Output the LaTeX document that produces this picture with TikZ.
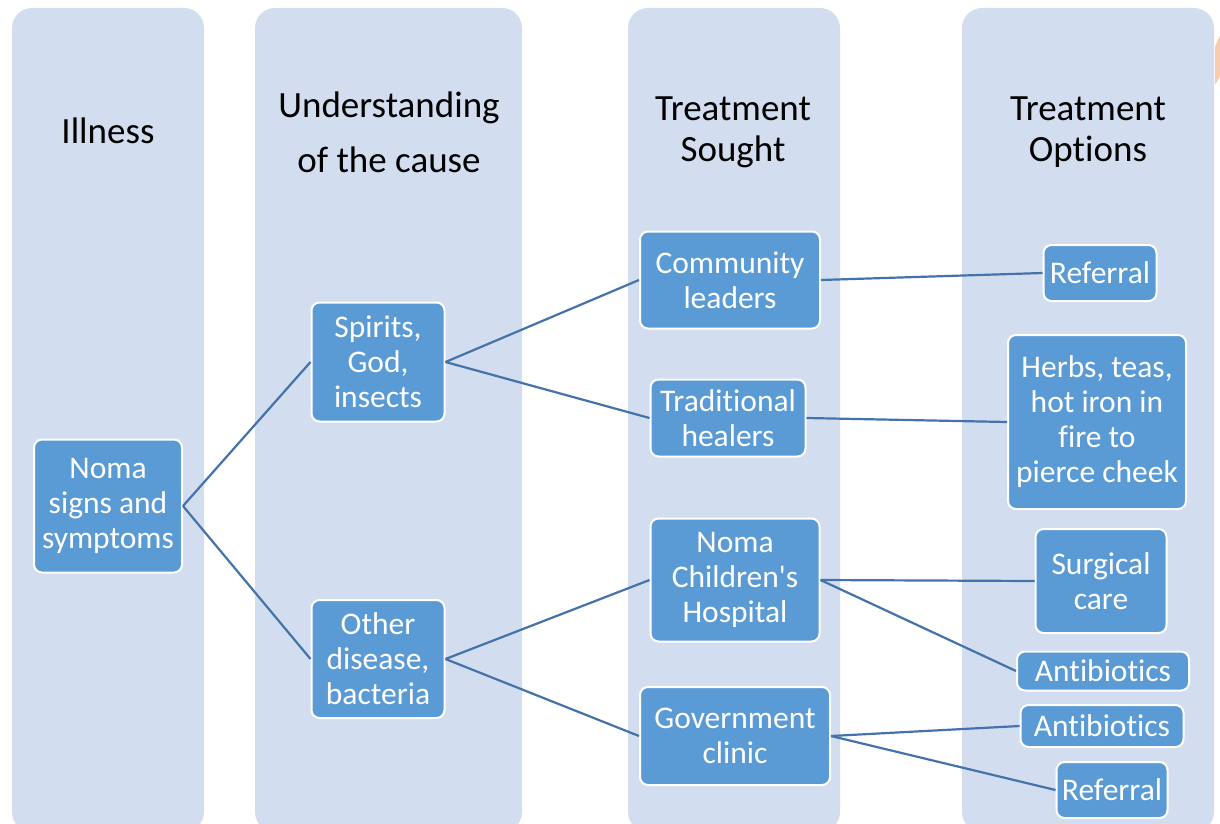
\documentclass[tikz,border=0pt]{standalone}
\usepackage{fontspec}
\setmainfont[Ligatures={TeX,NoCommon}]{Carlito}
\definecolor{colfill}{RGB}{210,222,239}
\definecolor{boxfill}{RGB}{91,155,213}
\definecolor{linkcol}{RGB}{68,114,170}
\definecolor{peach}{RGB}{248,203,173}
\begin{document}
\begin{tikzpicture}[x=1pt,y=-1pt,
  column/.style={fill=colfill,rounded corners=20pt},
  box/.style={fill=boxfill,draw=white,line width=2pt,rounded corners=8pt,text=white,
    inner sep=0pt,align=center,font=\fontsize{31.5}{35}\selectfont},
  head/.style={text=black,align=center,inner sep=0pt},
  link/.style={draw=linkcol,line width=2.2pt}]
\useasboundingbox (0,0) rectangle (1220,824);
% columns
\fill[column] (12,8) rectangle (204,832);
\fill[column] (255,8) rectangle (522,832);
\fill[column] (628,8) rectangle (840,832);
\fill[column] (962,8) rectangle (1214,832);
\fill[peach] (1215,47) -- (1220,35) -- (1220,76) -- (1215,85) -- cycle;
% headers
\node[head,font=\fontsize{37}{44}\selectfont] (h1) at (108,131) {Illness};
\node[head,font=\fontsize{37}{55}\selectfont] (h2) at (389,132) {Understanding\\of the cause};
\node[head,font=\fontsize{37}{41}\selectfont] (h3) at (733,132) {Treatment\\Sought};
\node[head,font=\fontsize{37}{41}\selectfont] (h4) at (1088,132) {Treatment\\Options};
% boxes
\node[box,minimum width=148pt,minimum height=133pt] (noma) at (108,506) {Noma\\signs and\\symptoms};
\node[box,minimum width=133pt,minimum height=119pt] (spirits) at (378,362) {Spirits,\\God,\\insects};
\node[box,minimum width=133pt,minimum height=118pt] (other) at (378,659) {Other\\disease,\\bacteria};
\node[box,minimum width=180pt,minimum height=97pt] (comm) at (730,280) {Community\\leaders};
\node[box,minimum width=155pt,minimum height=77pt] (trad) at (728,418) {Traditional\\healers};
\node[box,minimum width=169pt,minimum height=123pt] (hosp) at (735,580) {Noma\\Children\textquotesingle s\\Hospital};
\node[box,minimum width=190pt,minimum height=98pt] (gov) at (735,736) {Government\\clinic};
\node[box,minimum width=113pt,minimum height=56pt] (ref1) at (1100,273) {Referral};
\node[box,minimum width=178pt,minimum height=174pt] (herbs) at (1097,422) {Herbs, teas,\\hot iron in\\fire to\\pierce cheek};
\node[box,minimum width=131pt,minimum height=104pt] (surg) at (1101,581) {Surgical\\care};
\node[box,minimum width=172pt,minimum height=39pt] (anti1) at (1103,671) {Antibiotics};
\node[box,minimum width=163pt,minimum height=42pt] (anti2) at (1102,726) {Antibiotics};
\node[box,minimum width=111pt,minimum height=56pt] (ref2) at (1112,790) {Referral};
% connectors
\draw[link] (noma.east) -- (spirits.west);
\draw[link] (noma.east) -- (other.west);
\draw[link] (spirits.east) -- (comm.west);
\draw[link] (spirits.east) -- (trad.west);
\draw[link] (other.east) -- (hosp.west);
\draw[link] (other.east) -- (gov.west);
\draw[link] (comm.east) -- (ref1.west);
\draw[link] (trad.east) -- (herbs.west);
\draw[link] (hosp.east) -- (surg.west);
\draw[link] (hosp.east) -- (anti1.west);
\draw[link] (gov.east) -- (anti2.west);
\draw[link] (gov.east) -- (ref2.west);
\end{tikzpicture}
\end{document}
